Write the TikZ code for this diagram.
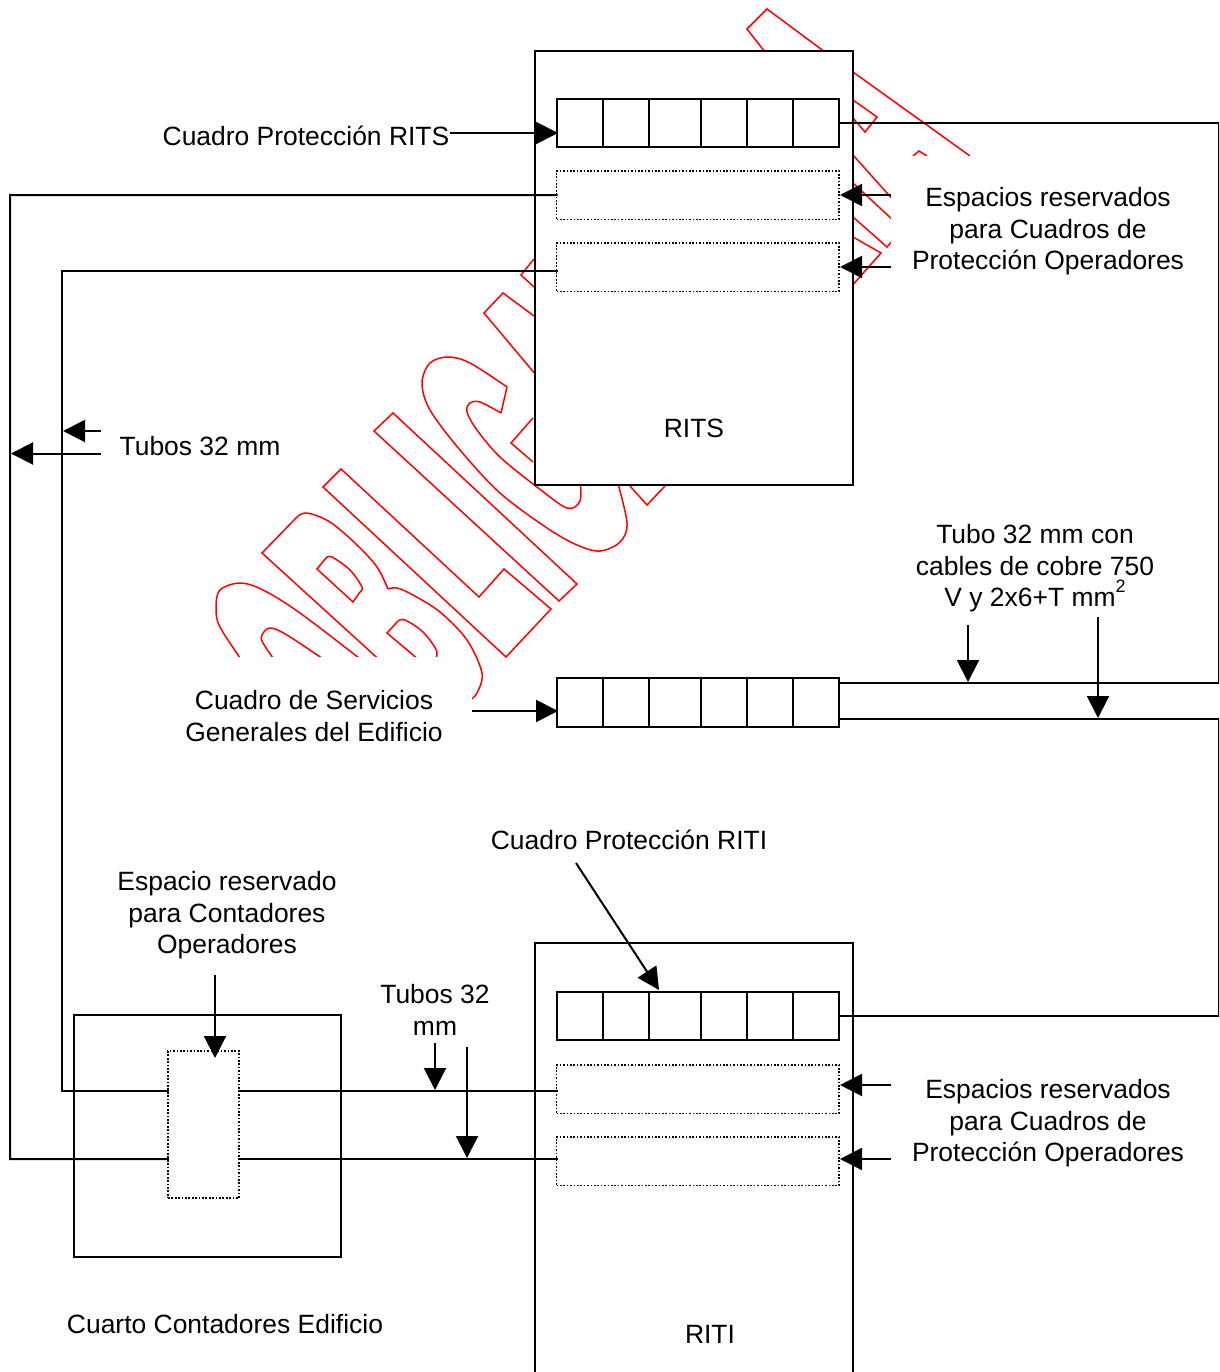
\documentclass[tikz,border=0pt]{standalone}
\usepackage{fontspec}
\setmainfont{Liberation Sans}
\usetikzlibrary{arrows.meta}
\definecolor{wm}{RGB}{255,0,0}
\tikzset{
  x=1pt,y=-1pt,
  ln/.style={line width=2pt,line cap=rect,line join=miter},
  box/.style={draw,line width=2pt,fill=white,inner sep=0pt,outer sep=0pt,anchor=north west},
  dotbox/.style={draw,line width=1.7pt,fill=white,inner sep=0pt,outer sep=0pt,anchor=north west,dash pattern=on 1.7pt off 1.7pt},
  lbl/.style={align=center,font=\fontsize{26.45}{31.5}\selectfont,inner sep=0pt,text depth=0pt},
  arr/.style={line width=2pt,-{Triangle[length=22pt,width=22pt]},shorten >=0pt},
  red/.style={draw=wm,line width=1.5pt,line join=miter},
  curve/.style={red,smooth,tension=0.55},
  mask/.style={fill=white,draw=none}
}
\newcommand{\cellrow}[3]{% name, top y, height
  \node[box,minimum width=282.5pt,minimum height=#3pt] (#1) at (556.5,#2) {};
  \foreach \cx in {603,649,701,747,793}{\draw[ln,line cap=butt] (\cx,#2) -- (\cx,#2+#3);}
}
\begin{document}
\begin{tikzpicture}
\useasboundingbox (0,0) rectangle (1219,1372);
\clip (0,0) rectangle (1219,1372);
% watermark
\draw[red] (765,52) -- (747,29) -- (767,9) -- (825,52);
\draw[red] (853,72) -- (970,156);
\draw[red] (853,100) -- (877,117) -- (865,132) -- (853,118);
\draw[red] (913,156) -- (919,151) -- (927,156);
\draw[red] (853,155) -- (895,202);
\draw[red] (853,183) -- (895,222);
\draw[red] (853,217) -- (887,247) -- (895,238);
\draw[red] (853,237) -- (881,253) -- (850,288);
\draw[red] (534,259) -- (521,275) -- (534,287);
\draw[red] (534,316) -- (503,293) -- (484,313) -- (536,375);
\draw[red] (533,418) -- (511,443) -- (533,462);
\draw[red] (630,486) -- (647,505) -- (665,486);
\draw[red] (374,431) -- (393,413) -- (577,584) -- (559,601) -- cycle;
\draw[red] (323,487) -- (341,469) -- (479,597) -- (504,569) -- (551,609) -- (506,657) -- cycle;
\draw[curve] plot coordinates {(617,480) (627,523) (620,542) (600,551) (577,545) (547,528) (500,493) (460,450) (430,410) (422,383) (430,363) (448,357) (470,363) (507,387)};
\draw[red] (507,387) -- (501,413);
\draw[curve] plot coordinates {(501,413) (480,402) (470,403) (467,412) (477,430) (500,457) (537,487) (567,508) (580,501) (580,480)};
\draw[curve] plot coordinates {(297,517) (307,513) (330,522) (357,545) (377,567) (388,589)};
\draw[red] (297,517) -- (262,553) -- (385,665);
\draw[curve] plot coordinates {(388,589) (397,588) (413,595) (440,612) (467,640) (482,673) (477,693) (470,700)};
\draw[curve] plot coordinates {(326,558) (332,557) (350,570) (362,587) (360,592)};
\draw[red] (360,592) -- (353,602) -- (317,569) -- (326,558);
\draw[curve] plot coordinates {(398,621) (405,620) (423,632) (437,652) (432,665)};
\draw[red] (425,665) -- (387,633) -- (398,621);
\draw[curve] plot coordinates {(245,665) (220,627) (216,607) (220,590) (240,583) (263,590) (300,613) (368,665)};
\draw[curve] plot coordinates {(278,665) (263,643) (262,635) (270,628) (287,635) (332,665)};
% white areas of the labels
\fill[mask] (150,657) rectangle (472,760);
\fill[mask] (891,156) rectangle (1217,300);
% cabinets
\node[box,minimum width=318pt,minimum height=434pt] (rits) at (535,51) {};
\node[box,minimum width=318pt,minimum height=460pt] (riti) at (535,943) {};
\node[box,minimum width=267pt,minimum height=242pt] (cuarto) at (74,1015) {};
\cellrow{rowa}{99}{48.5}
\node[dotbox,minimum width=282.5pt,minimum height=48.5pt] (dota) at (556.5,171) {};
\node[dotbox,minimum width=282.5pt,minimum height=48.5pt] (dotb) at (556.5,243) {};
\cellrow{rowb}{677.5}{49.5}
\cellrow{rowc}{991.5}{48.5}
\node[dotbox,minimum width=282.5pt,minimum height=48.5pt] (dotc) at (556.5,1065) {};
\node[dotbox,minimum width=282.5pt,minimum height=48.5pt] (dotd) at (556.5,1137) {};
\node[dotbox,minimum width=71pt,minimum height=147pt] (cont) at (168,1051) {};
% labels
\node[lbl] (tprits) at (306,135.5) {Cuadro Protección RITS};
\node[lbl] (tespa) at (1048,228.5) {Espacios reservados\\para Cuadros de\\Protección Operadores};
\node[lbl] (trits) at (694,428) {RITS};
\node[lbl] (ttubos) at (200,446) {Tubos 32 mm};
\node[lbl] (tcobre) at (1035,565.5) {Tubo 32 mm con\\cables de cobre 750\\V y 2x6+T mm\smash{\raisebox{14pt}{\fontsize{18}{18}\selectfont 2}}};
\node[lbl] (tserv) at (314,716) {Cuadro de Servicios\\Generales del Edificio};
\node[lbl] (tpriti) at (629,840) {Cuadro Protección RITI};
\node[lbl] (tcont) at (227,912.5) {Espacio reservado\\para Contadores\\Operadores};
\node[lbl] (ttub2) at (435,1010) {Tubos 32\\mm};
\node[lbl] (tespb) at (1048,1120.5) {Espacios reservados\\para Cuadros de\\Protección Operadores};
\node[lbl] (triti) at (710,1334) {RITI};
\node[lbl] (tcuarto) at (225,1324) {Cuarto Contadores Edificio};
% connector anchors
\coordinate (ra) at (1219,123);
\coordinate (rb) at (1219,683);
\coordinate (rc) at (1219,719);
\coordinate (rd) at (1219,1015.75);
\coordinate (sb1) at (839,683);
\coordinate (sb2) at (839,719);
\coordinate (lb) at (556.5,271);
\coordinate (la) at (10,195);
\coordinate (lc) at (62,271);
\coordinate (ca) at (168,1091);
\coordinate (cb) at (239,1091);
\coordinate (da) at (168,1159);
\coordinate (db) at (239,1159);
\coordinate (e1) at (556.5,1091);
\coordinate (e2) at (556.5,1159);
% conduits
\draw[ln] (rowa.east) -- (ra |- rowa.east) -- (rb) -- (sb1);
\draw[ln] (sb2) -- (rc) -- (rd) -- (rowc.east);
\draw[ln] (dota.west) -- (la) -- (10,1159) -- (da);
\draw[ln] (db) -- (e2);
\draw[ln] (lb) -- (lc) -- (62,1091) -- (ca);
\draw[ln] (cb) -- (e1);
% arrows
\coordinate (a1s) at (450,133); \coordinate (a1e) at (558,133);
\coordinate (a2s) at (891,195); \coordinate (a2e) at (840,195);
\coordinate (a3s) at (891,267); \coordinate (a3e) at (840,267);
\coordinate (a4s) at (101,431); \coordinate (a4e) at (63,431);
\coordinate (a5s) at (101,453.5); \coordinate (a5e) at (11,453.5);
\coordinate (a6s) at (968,625); \coordinate (a6e) at (968,682);
\coordinate (a7s) at (1098,617); \coordinate (a7e) at (1098,718);
\coordinate (a8s) at (472,711); \coordinate (a8e) at (558,711);
\coordinate (a9s) at (576,863); \coordinate (a9e) at (659,990);
\coordinate (a10s) at (215,975); \coordinate (a10e) at (215,1058);
\coordinate (a11s) at (435,1043); \coordinate (a11e) at (435,1090);
\coordinate (a12s) at (467,1047); \coordinate (a12e) at (467,1158);
\coordinate (a13s) at (891,1085); \coordinate (a13e) at (840,1085);
\coordinate (a14s) at (891,1159); \coordinate (a14e) at (840,1159);
\foreach \i in {1,...,14}{\draw[arr] (a\i s) -- (a\i e);}
\end{tikzpicture}
\end{document}
